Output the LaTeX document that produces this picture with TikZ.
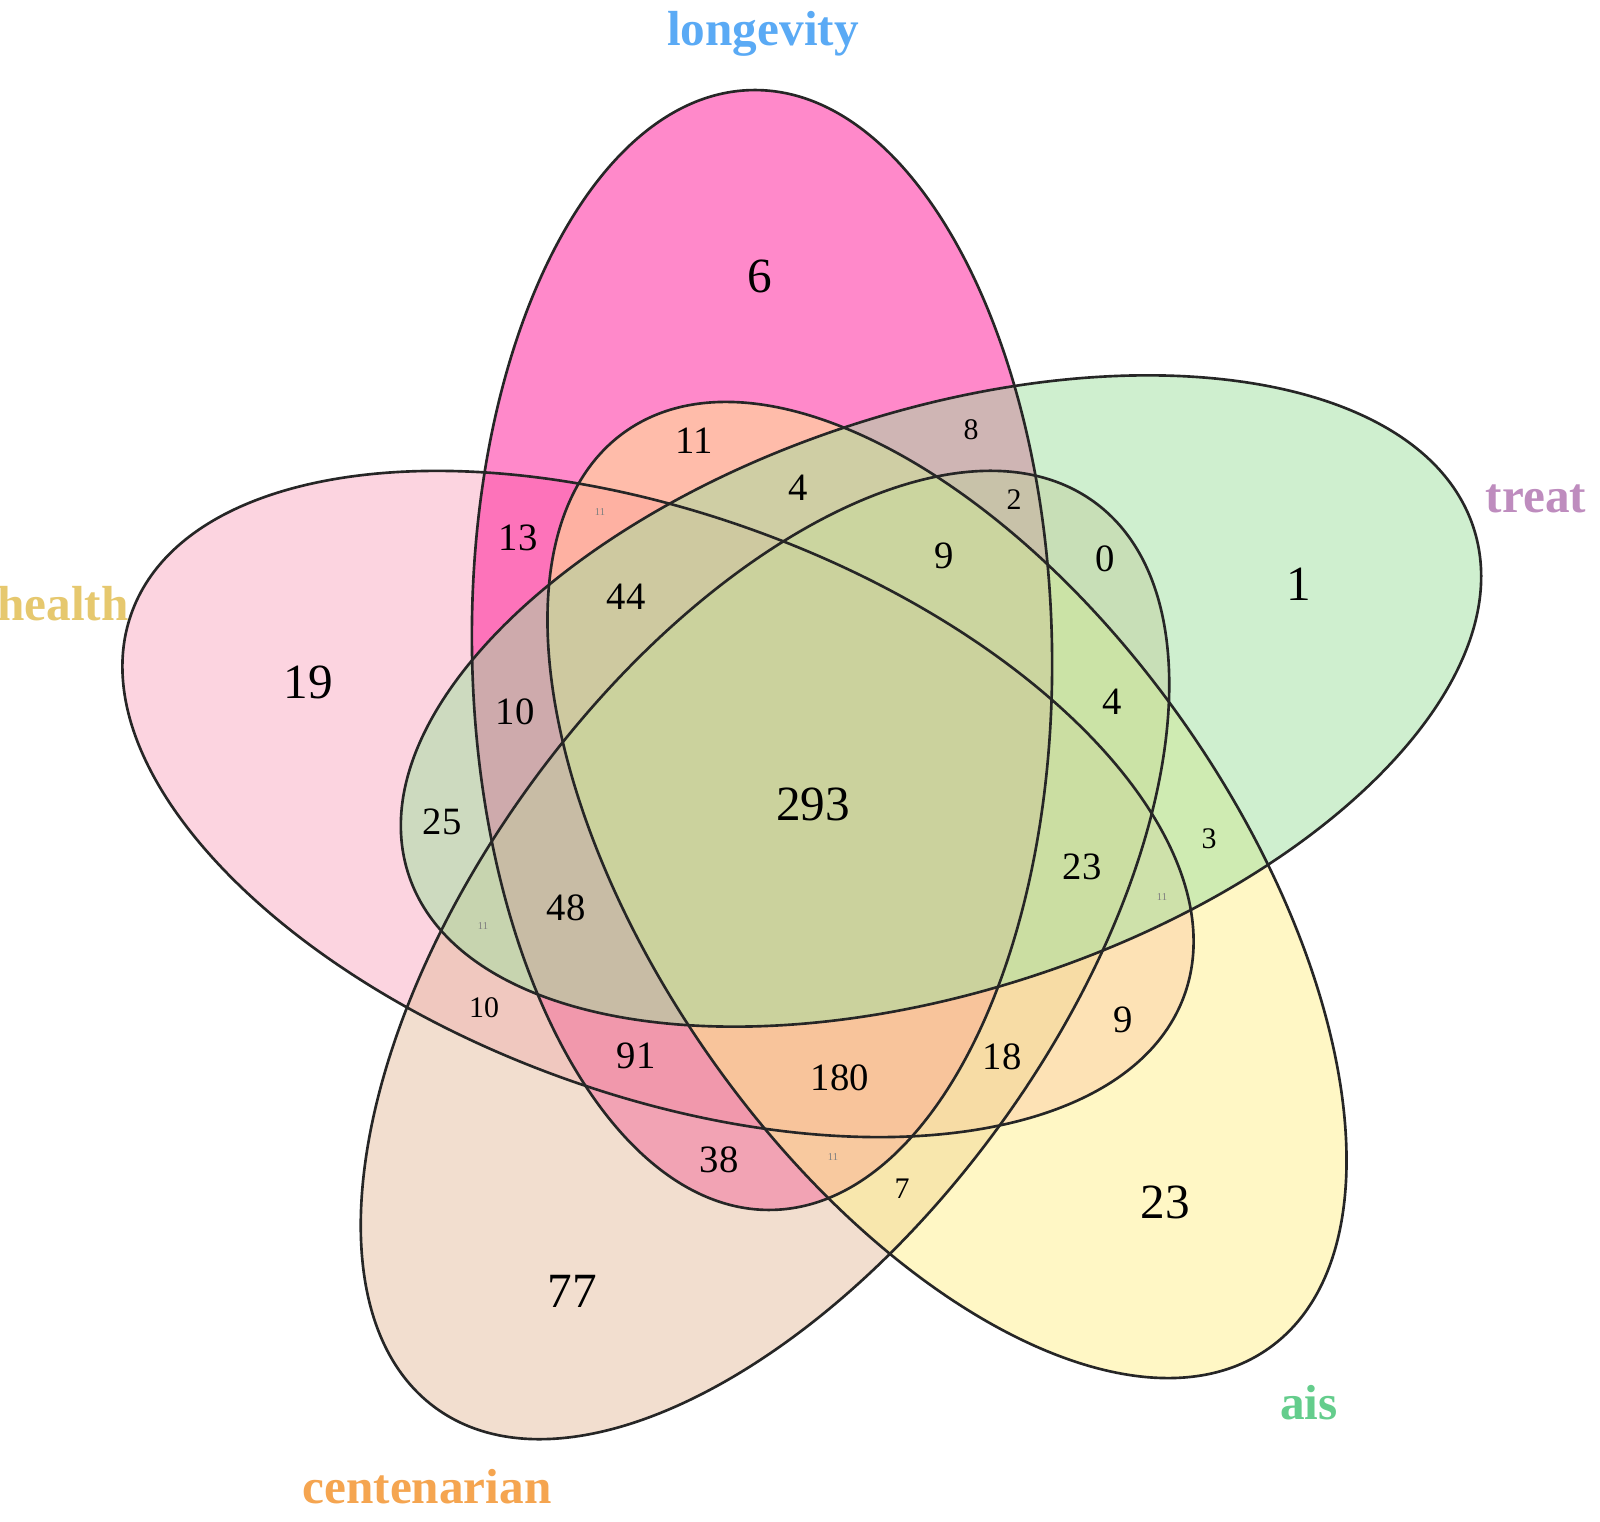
\documentclass[tikz,border=0pt]{standalone}
\usepackage{fontspec}
\setmainfont{Liberation Serif}
\definecolor{colL}{RGB}{255,20,150}
\definecolor{colT}{RGB}{160,225,160}
\definecolor{colA}{RGB}{255,240,140}
\definecolor{colC}{RGB}{230,190,160}
\definecolor{colH}{RGB}{250,170,195}
\definecolor{labL}{RGB}{90,170,245}
\definecolor{labH}{RGB}{230,200,110}
\definecolor{labT}{RGB}{190,140,190}
\definecolor{labA}{RGB}{100,205,140}
\definecolor{labC}{RGB}{245,165,80}
\def\shapeL{[rotate around={91:(762,-650)}] (762,-650) ellipse [x radius=560, y radius=290]}
\def\shapeT{[rotate around={18:(941,-701)}] (941,-701) ellipse [x radius=560, y radius=290]}
\def\shapeH{[rotate around={-20:(658,-804)}] (658,-804) ellipse [x radius=560, y radius=290]}
\def\shapeA{[rotate around={-55:(947,-890)}] (947,-890) ellipse [x radius=560, y radius=290]}
\def\shapeC{[rotate around={54:(765,-955)}] (765,-955) ellipse [x radius=560, y radius=290]}
\tikzset{
  fillset/.style={fill=#1, fill opacity=0.5},
  edge/.style={draw=black!85, line width=0.75pt},
  big/.style={font=\fontsize{14}{14}\selectfont},
  mid/.style={font=\fontsize{11}{11}\selectfont},
  sml/.style={font=\fontsize{8.5}{8.5}\selectfont},
  tiny/.style={font=\fontsize{3}{3}\selectfont, text=black!50},
  setlabel/.style={font=\fontsize{14}{14}\selectfont\bfseries, text=#1},
}
\begin{document}
\begin{tikzpicture}[x=0.01cm,y=0.01cm]
\useasboundingbox (0,0) rectangle (1600,-1522);
\fill[white] (0,0) rectangle (1600,-1522);
% fills
\fill[fillset=colH] \shapeH;
\fill[fillset=colL] \shapeL;
\fill[fillset=colC] \shapeC;
\fill[fillset=colA] \shapeA;
\fill[fillset=colT] \shapeT;
% outlines
\draw[edge] \shapeH;
\draw[edge] \shapeL;
\draw[edge] \shapeC;
\draw[edge] \shapeA;
\draw[edge] \shapeT;
% set labels
\node[setlabel=labL] (lbl-longevity) at (763,-34) {longevity};
\node[setlabel=labH] (lbl-health) at (63,-604) {health};
\node[setlabel=labT] (lbl-treat) at (1536,-499) {treat};
\node[setlabel=labA] (lbl-ais) at (1309,-1403) {ais};
\node[setlabel=labC] (lbl-centenarian) at (427,-1487) {centenarian};
% region counts
\node[big] (n6) at (760,-276) {6};
\node[big] (n19) at (308,-682) {19};
\node[big] (n1) at (1299,-584) {1};
\node[big] (n77) at (572,-1291) {77};
\node[big] (n23a) at (1165,-1202) {23};
\node[big] (n293) at (813,-804) {293};
\node[mid] (n11) at (694,-441) {11};
\node[sml] (n8) at (971,-430) {8};
\node[mid] (n4a) at (798,-488) {4};
\node[sml] (n2) at (1014,-500) {2};
\node[mid] (n13) at (518,-538) {13};
\node[mid] (n44) at (626,-597) {44};
\node[mid] (n9a) at (944,-556) {9};
\node[mid] (n0) at (1105,-559) {0};
\node[mid] (n4b) at (1112,-702) {4};
\node[mid] (n10a) at (515,-712) {10};
\node[mid] (n25) at (442,-822) {25};
\node[sml] (n3) at (1209,-839) {3};
\node[mid] (n23b) at (1082,-867) {23};
\node[mid] (n48) at (566,-908) {48};
\node[sml] (n10b) at (484,-1008) {10};
\node[mid] (n91) at (636,-1056) {91};
\node[mid] (n180) at (840,-1078) {180};
\node[mid] (n18) at (1002,-1057) {18};
\node[mid] (n9b) at (1123,-1020) {9};
\node[mid] (n38) at (719,-1160) {38};
\node[sml] (n7) at (902,-1189) {7};
\node[tiny] (t1) at (600,-512) {11};
\node[tiny] (t2) at (483,-926) {11};
\node[tiny] (t3) at (833,-1157) {11};
\node[tiny] (t4) at (1162,-897) {11};
\end{tikzpicture}
\end{document}
